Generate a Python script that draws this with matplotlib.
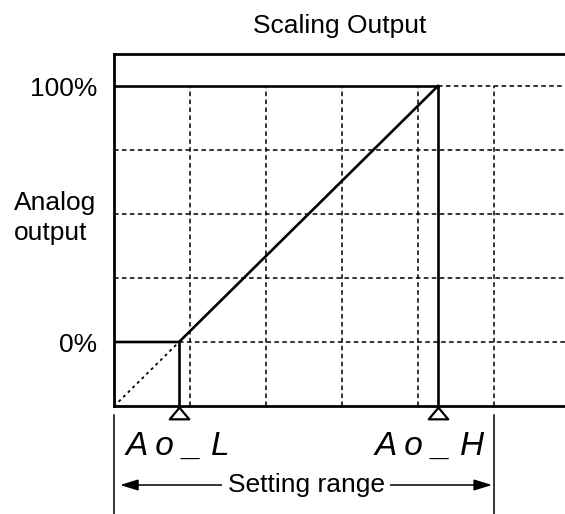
import matplotlib
matplotlib.use("Agg")
import matplotlib.pyplot as plt
import matplotlib.transforms as mtransforms
from matplotlib.path import Path

plt.rcParams["font.family"] = ["Liberation Sans", "DejaVu Sans"]

# chart values
grid_x = [1, 2, 3, 4, 5]
grid_y = [25, 50, 75]
ao_l = 0.855
ao_h = 4.26
out_low, out_high = 0, 100
y_ticks = [0, 100]
y_tick_labels = ["0%", "100%"]
range_x = [0.08, 4.97]
bracket_x = [0.0, 5.0]

INK = "#000000"
FS = 19

fig = plt.figure(figsize=(5.65, 5.14), dpi=100)
ax = fig.add_axes([114 / 565, 108 / 514, 451 / 565, 352 / 514])
ax.set_xlim(0, 5.93)
ax.set_ylim(-25, 112.5)

for side in ("left", "top", "bottom"):
    ax.spines[side].set_linewidth(2.0)
ax.spines["right"].set_visible(False)
ax.set_xticks([])
ax.set_yticks(y_ticks, y_tick_labels, fontsize=FS)
ax.tick_params(axis="y", length=0, pad=12)

dash = (0, (3.0, 2.2))
lw_grid = 1.1
# vertical grid
for gx in grid_x:
    ax.plot([gx, gx], [-25, out_high], color=INK, lw=lw_grid, ls=dash, zorder=1)
# horizontal grid
for gy in grid_y:
    ax.plot([0, 5.93], [gy, gy], color=INK, lw=lw_grid, ls=dash, zorder=1)
ax.plot([ao_l, 5.93], [out_low, out_low], color=INK, lw=lw_grid, ls=dash, zorder=1)
ax.plot([ao_h, 5.93], [out_high, out_high], color=INK, lw=lw_grid, ls=dash, zorder=1)

# extrapolated dotted part
slope = (out_high - out_low) / (ao_h - ao_l)
ax.plot([0, ao_l], [out_low - slope * ao_l, out_low], color=INK, lw=1.3,
        ls=(0, (1.6, 2.0)), zorder=2)

# scaling output
lw_main = 1.9
ax.plot([0, ao_l, ao_h], [out_low, out_low, out_high], color=INK, lw=lw_main, zorder=3)
ax.plot([0, ao_h], [out_high, out_high], color=INK, lw=lw_main, zorder=3)
ax.plot([ao_l, ao_l], [-25, out_low], color=INK, lw=lw_main, zorder=3)
ax.plot([ao_h, ao_h], [-25, out_high], color=INK, lw=lw_main, zorder=3)

# triangles under the axis
tri = Path([(-1, -0.6), (1, -0.6), (0, 0.6), (-1, -0.6)],
           [Path.MOVETO, Path.LINETO, Path.LINETO, Path.CLOSEPOLY])
offset = mtransforms.ScaledTranslation(0, -7 / 100, fig.dpi_scale_trans)
ax.plot([ao_l, ao_h], [0, 0], ls="none", marker=tri, markersize=14,
        markerfacecolor="white", markeredgecolor=INK, markeredgewidth=1.6,
        transform=ax.get_xaxis_transform() + offset, clip_on=False, zorder=5)

# setting range bracket
xt = ax.get_xaxis_transform()
for bx in bracket_x:
    ax.plot([bx, bx], [-9 / 352, -110 / 352], color=INK, lw=1.1,
            transform=xt, clip_on=False)

ax.annotate("", xy=(range_x[0], -79 / 352), xytext=(range_x[1], -79 / 352),
            xycoords=xt, textcoords=xt,
            arrowprops=dict(arrowstyle="<|-|>,head_length=0.55,head_width=0.17",
                            color=INK, lw=1.1, shrinkA=0, shrinkB=0,
                            mutation_scale=20))
ax.text(sum(range_x) / 2, -79 / 352, "Setting range", transform=xt,
        ha="center", va="center", fontsize=FS,
        bbox=dict(facecolor="white", edgecolor="none", pad=4))

# parameter labels
ax.text((126 - 114) / 76, -49 / 352, "A o _ L", transform=xt, ha="left",
        va="baseline", fontsize=24, style="italic", clip_on=False)
ax.text((374 - 114) / 76, -49 / 352, "A o _ H", transform=xt, ha="left",
        va="baseline", fontsize=24, style="italic", clip_on=False)

fig.text(14 / 565, 1 - 218 / 514, "Analog\noutput", ha="left", va="center",
         fontsize=FS, linespacing=1.3)
ax.set_title("Scaling Output", fontsize=FS, pad=15)

fig.savefig("out.png", dpi=100)
